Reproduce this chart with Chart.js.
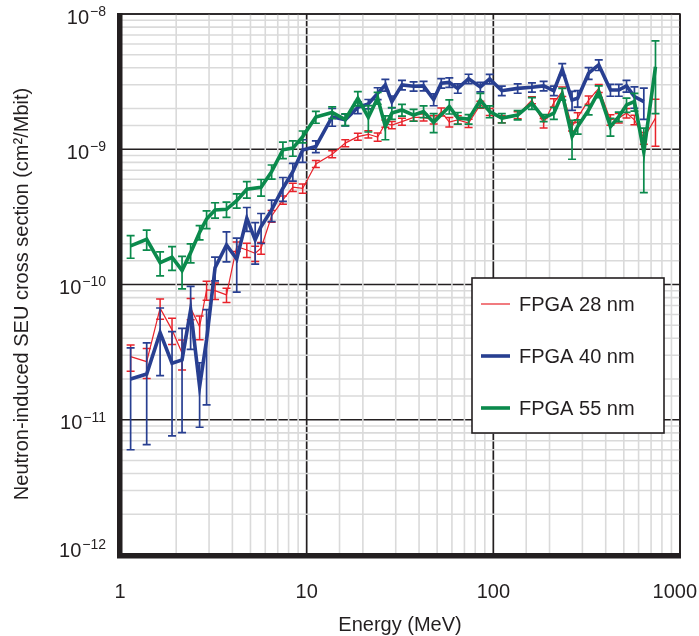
<!DOCTYPE html>
<html>
<head>
<meta charset="utf-8">
<title>Neutron-induced SEU cross section</title>
<script src="https://cdn.jsdelivr.net/npm/chart.js@4.4.1/dist/chart.umd.min.js"></script>
<style>
  html, body { margin: 0; padding: 0; background: #fff; }
  #wrap { width: 699px; height: 636px; }
</style>
</head>
<body>
<div id="wrap"><canvas id="seuChart" width="699" height="636"></canvas></div>
<script>
// neutron energy bins (MeV)
const energyMeV = [1.14, 1.39, 1.64, 1.9, 2.15, 2.39, 2.67, 2.91, 3.23, 3.72,
  4.22, 4.78, 5.3, 5.7, 6.49, 7.46, 8.43, 9.52, 11.2, 13.7,
  16.1, 18.8, 21.4, 24, 26.4, 28.6, 32.4, 37.4, 42.3, 47.9,
  52.6, 58.1, 64.5, 73.7, 85.2, 95.6, 111, 135, 161, 186,
  211, 234, 264, 283, 324, 367, 424, 470, 517, 570,
  640, 739];

// SEU cross section (cm2/Mbit)
const fpga28 = [2.93e-11, 2.69e-11, 6.68e-11, 4.62e-11, 3.11e-11, 6.68e-11, 4.88e-11, 9.12e-11, 9.0e-11, 8.38e-11,
  1.91e-10, 1.80e-10, 1.70e-10, 1.86e-10, 3.21e-10, 4.22e-10, 5.24e-10, 5.13e-10, 7.79e-10, 9.19e-10,
  1.11e-9, 1.24e-9, 1.29e-9, 1.23e-9, 1.55e-9, 1.51e-9, 1.60e-9, 1.72e-9, 1.72e-9, 1.65e-9,
  1.89e-9, 1.59e-9, 1.65e-9, 1.56e-9, 2.14e-9, 1.89e-9, 1.67e-9, 1.79e-9, 2.31e-9, 1.56e-9,
  2.21e-9, 2.67e-9, 1.47e-9, 1.72e-9, 2.31e-9, 2.82e-9, 1.65e-9, 1.70e-9, 1.85e-9, 1.65e-9,
  1.21e-9, 1.70e-9];
const fpga40 = [2.0e-11, 2.18e-11, 4.41e-11, 2.62e-11, 2.77e-11, 6.49e-11, 1.76e-11, 3.9e-11, 1.33e-10, 1.96e-10,
  1.54e-10, 3.09e-10, 2.14e-10, 2.68e-10, 3.56e-10, 5.15e-10, 6.83e-10, 9.88e-10, 1.05e-9, 1.74e-9,
  1.65e-9, 2.04e-9, 2.16e-9, 2.59e-9, 2.99e-9, 2.25e-9, 2.99e-9, 2.92e-9, 2.94e-9, 2.33e-9,
  3.08e-9, 3.12e-9, 2.82e-9, 3.32e-9, 2.89e-9, 3.31e-9, 2.71e-9, 2.82e-9, 2.87e-9, 2.94e-9,
  2.71e-9, 3.9e-9, 2.31e-9, 2.38e-9, 3.65e-9, 4.2e-9, 2.74e-9, 2.74e-9, 2.94e-9, 2.45e-9,
  2.25e-9, null];
const fpga55 = [1.93e-10, 2.16e-10, 1.45e-10, 1.59e-10, 1.27e-10, 1.72e-10, 2.43e-10, 3.05e-10, 3.56e-10, 3.6e-10,
  4.17e-10, 5.06e-10, null, 5.24e-10, 6.83e-10, 9.9e-10, 1.02e-9, 1.24e-9, 1.73e-9, 1.87e-9,
  1.66e-9, 2.38e-9, 1.72e-9, 2.39e-9, 1.47e-9, 1.85e-9, 1.95e-9, 1.79e-9, 1.9e-9, 1.58e-9,
  null, 2.07e-9, 1.7e-9, 1.67e-9, 2.31e-9, 1.9e-9, 1.7e-9, 1.79e-9, 2.19e-9, 1.7e-9,
  1.85e-9, 2.56e-9, 1.24e-9, 1.47e-9, 1.95e-9, 2.67e-9, 1.47e-9, 1.74e-9, 2.13e-9, 2.25e-9,
  9.55e-10, 4.08e-9];

// relative (1 sigma) errors
const fpga28Err = [0.22, 0.25, 0.17, 0.22, 0.25, 0.18, 0.2, 0.16, 0.14, 0.12,
  0.08, 0.12, 0.13, 0.1, 0.1, 0.07, 0.07, 0.08, 0.06, 0.06,
  0.06, 0.06, 0.06, 0.07, 0.06, 0.06, 0.06, 0.06, 0.06, 0.07,
  0.07, 0.08, 0.07, 0.07, 0.06, 0.06, 0.06, 0.06, 0.06, 0.08,
  0.07, 0.08, 0.07, 0.08, 0.07, 0.07, 0.09, 0.08, 0.08, 0.08,
  0.1, 0.38];
const fpga40Err = [0.7, 0.7, 0.52, 0.71, 0.71, 0.49, 0.5, 0.67, 0.2, 0.25,
  0.43, 0.2, 0.34, 0.25, 0.18, 0.2, 0.15, 0.19, 0.1, 0.15,
  0.1, 0.1, 0.08, 0.1, 0.1, 0.1, 0.08, 0.08, 0.08, 0.1,
  0.08, 0.08, 0.08, 0.08, 0.08, 0.08, 0.08, 0.08, 0.08, 0.08,
  0.08, 0.1, 0.16, 0.14, 0.1, 0.09, 0.1, 0.1, 0.1, 0.18,
  0.26, null];
const fpga55Err = [0.19, 0.17, 0.2, 0.2, 0.27, 0.16, 0.12, 0.15, 0.13, 0.13,
  0.12, 0.14, null, 0.14, 0.12, 0.14, 0.13, 0.1, 0.1, 0.1,
  0.1, 0.12, 0.22, 0.1, 0.2, 0.1, 0.1, 0.1, 0.1, 0.16,
  null, 0.12, 0.1, 0.08, 0.12, 0.1, 0.08, 0.08, 0.1, 0.06,
  0.1, 0.1, 0.32, 0.12, 0.08, 0.1, 0.15, 0.08, 0.12, 0.15,
  0.5, 0.55];

const FONT = '"Liberation Sans", Arial, Helvetica, sans-serif';
const INK = '#231f20';

const toPoints = (values) => energyMeV.map((e, i) => ({ x: e, y: values[i] }));

const isDecade = (v) => Math.abs(Math.log10(v) - Math.round(Math.log10(v))) < 1e-6;

// light minor grid goes over the black decade lines, like the original
const logGrid = {
  id: 'logGrid',
  beforeDatasetsDraw(chart) {
    const { ctx, chartArea: a, scales: { x, y } } = chart;
    const xs = x.ticks.map((t) => t.value);
    const ys = y.ticks.map((t) => t.value);
    const vline = (v) => { const p = x.getPixelForValue(v); ctx.moveTo(p, a.top); ctx.lineTo(p, a.bottom); };
    const hline = (v) => { const p = y.getPixelForValue(v); ctx.moveTo(a.left, p); ctx.lineTo(a.right, p); };
    ctx.save();
    ctx.beginPath();
    xs.filter(isDecade).forEach(vline);
    ys.filter(isDecade).forEach(hline);
    ctx.strokeStyle = INK;
    ctx.lineWidth = 1.7;
    ctx.stroke();
    ctx.beginPath();
    xs.filter((v) => !isDecade(v)).forEach(vline);
    ys.filter((v) => !isDecade(v)).forEach(hline);
    ctx.strokeStyle = '#dadada';
    ctx.lineWidth = 1.6;
    ctx.stroke();
    ctx.restore();
  },
};

const errorBars = {
  id: 'errorBars',
  afterDatasetDraw(chart, args) {
    const ds = chart.data.datasets[args.index];
    const { ctx, chartArea: a, scales: { x, y } } = chart;
    const cap = 4;
    ctx.save();
    ctx.beginPath();
    ctx.rect(a.left, a.top, a.right - a.left, a.bottom - a.top);
    ctx.clip();
    ctx.strokeStyle = ds.borderColor;
    ctx.lineWidth = ds.errLineWidth;
    ds.data.forEach((p, i) => {
      const f = ds.errFrac[i];
      if (p.y == null || f == null) return;
      const px = x.getPixelForValue(p.x);
      const top = y.getPixelForValue(p.y * (1 + f));
      const bot = y.getPixelForValue(p.y * (1 - f));
      ctx.beginPath();
      ctx.moveTo(px, top); ctx.lineTo(px, bot);
      ctx.moveTo(px - cap, top); ctx.lineTo(px + cap, top);
      ctx.moveTo(px - cap, bot); ctx.lineTo(px + cap, bot);
      ctx.stroke();
    });
    ctx.restore();
  },
};

const frameAndText = {
  id: 'frameAndText',
  afterDraw(chart) {
    const { ctx, chartArea: a, scales: { x, y } } = chart;
    ctx.save();

    // frame: heavy left and bottom, thin top and right
    ctx.strokeStyle = INK;
    ctx.lineWidth = 1.6;
    ctx.beginPath();
    ctx.moveTo(a.left, a.top); ctx.lineTo(a.right, a.top); ctx.lineTo(a.right, a.bottom);
    ctx.stroke();
    ctx.fillStyle = INK;
    ctx.fillRect(a.left - 3, a.top - 1, 5.5, a.bottom - a.top + 4);
    ctx.fillRect(a.left - 3, a.bottom - 2, a.right - a.left + 4, 5.5);

    // legend box
    const lx = 472, ly = 278, lw = 192, lh = 155;
    ctx.fillStyle = '#fff';
    ctx.fillRect(lx, ly, lw, lh);
    ctx.strokeStyle = INK;
    ctx.lineWidth = 1.6;
    ctx.strokeRect(lx, ly, lw, lh);
    const rows = [304, 356, 408];
    chart.data.datasets.forEach((ds, i) => {
      ctx.strokeStyle = ds.borderColor;
      ctx.lineWidth = ds.borderWidth;
      ctx.beginPath();
      ctx.moveTo(lx + 9, rows[i]); ctx.lineTo(lx + 38, rows[i]);
      ctx.stroke();
      ctx.fillStyle = INK;
      ctx.font = '20px ' + FONT;
      ctx.textAlign = 'left';
      ctx.textBaseline = 'middle';
      ctx.fillText(ds.label, lx + 47, rows[i] + 1);
    });

    // x tick labels (kept inside the canvas on the right)
    ctx.fillStyle = INK;
    ctx.font = '20px ' + FONT;
    ctx.textAlign = 'center';
    ctx.textBaseline = 'middle';
    x.ticks.map((t) => t.value).filter(isDecade).forEach((v) => {
      const txt = String(Math.round(v));
      const w = ctx.measureText(txt).width;
      const px = Math.min(x.getPixelForValue(v), chart.width - 2 - w / 2);
      ctx.fillText(txt, px, a.bottom + 37);
    });

    // y tick labels, 10 with a raised exponent
    y.ticks.map((t) => t.value).filter(isDecade).forEach((v) => {
      const py = Math.min(y.getPixelForValue(v) + 4, a.bottom - 4);
      const expText = '\u2212' + Math.abs(Math.round(Math.log10(v)));
      const right = a.left - 14;
      ctx.font = '14px ' + FONT;
      const ew = ctx.measureText(expText).width;
      ctx.textAlign = 'left';
      ctx.fillText(expText, right - ew, py - 6);
      ctx.font = '20px ' + FONT;
      ctx.textAlign = 'right';
      ctx.fillText('10', right - ew - 1, py);
    });

    // axis titles
    ctx.font = '20px ' + FONT;
    ctx.textAlign = 'center';
    ctx.fillText('Energy (MeV)', (a.left + a.right) / 2, a.bottom + 70);
    ctx.translate(22, 294);
    ctx.rotate(-Math.PI / 2);
    ctx.fillText('Neutron-induced SEU cross section (cm\u00b2/Mbit)', 0, 0);

    ctx.restore();
  },
};

const ctx = document.getElementById('seuChart').getContext('2d');
new Chart(ctx, {
  type: 'line',
  data: {
    datasets: [
      {
        label: 'FPGA 28 nm',
        data: toPoints(fpga28),
        errFrac: fpga28Err,
        borderColor: '#e8232b',
        borderWidth: 1.2,
        errLineWidth: 1.5,
        order: 3,
      },
      {
        label: 'FPGA 40 nm',
        data: toPoints(fpga40),
        errFrac: fpga40Err,
        borderColor: '#283f91',
        borderWidth: 3.6,
        errLineWidth: 1.7,
        order: 2,
      },
      {
        label: 'FPGA 55 nm',
        data: toPoints(fpga55),
        errFrac: fpga55Err,
        borderColor: '#0b8a4c',
        borderWidth: 3.6,
        errLineWidth: 1.7,
        order: 1,
      },
    ],
  },
  options: {
    responsive: false,
    animation: false,
    devicePixelRatio: 1,
    layout: { padding: { top: 14, right: 19, left: 0, bottom: 0 } },
    elements: {
      point: { radius: 0, hoverRadius: 0 },
      line: { tension: 0, fill: false, borderJoinStyle: 'miter' },
    },
    spanGaps: true,
    plugins: { legend: { display: false }, tooltip: { enabled: false } },
    scales: {
      x: {
        type: 'logarithmic',
        min: 1,
        max: 1000,
        grid: { display: false },
        border: { display: false },
        ticks: { display: false, autoSkip: false },
        afterFit: (scale) => { scale.height = 81; },
      },
      y: {
        type: 'logarithmic',
        min: 1e-12,
        max: 1e-8,
        grid: { display: false },
        border: { display: false },
        ticks: { display: false, autoSkip: false },
        afterFit: (scale) => { scale.width = 120; },
      },
    },
  },
  plugins: [logGrid, errorBars, frameAndText],
});
</script>
</body>
</html>
